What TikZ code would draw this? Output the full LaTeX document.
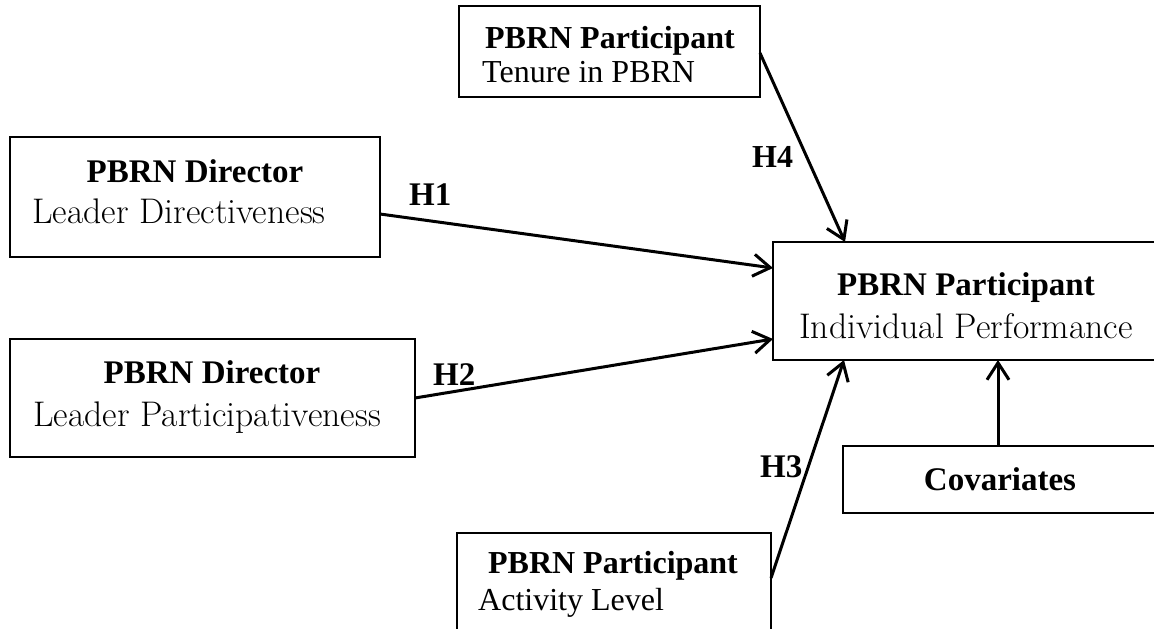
\documentclass[tikz,border=0pt]{standalone}
\usepackage{fontspec}
\newfontfamily\timesf{Liberation Serif}
\usetikzlibrary{arrows.meta}
\begin{document}
\begin{tikzpicture}[x=1pt,y=-1pt,
  box/.style={draw, line width=1.4pt, inner sep=0pt, outer sep=0pt},
  pal/.style={inner sep=0pt, font=\fontsize{35.6}{40}\selectfont},
  palb/.style={inner sep=0pt, font=\fontsize{33}{38}\selectfont\timesf\bfseries},
  tms/.style={inner sep=0pt, font=\fontsize{32}{38}\selectfont\timesf},
  tmsb/.style={inner sep=0pt, font=\fontsize{32}{38}\selectfont\timesf\bfseries},
  arr/.style={line width=3pt, -{Straight Barb[length=17pt,width=22pt]}}]
\useasboundingbox (0,0) rectangle (1154,629);
\clip (0,0) rectangle (1154,629);
% boxes
\node[box, minimum width=370pt, minimum height=120pt] (a) at (195,197) {};
\node[box, minimum width=405pt, minimum height=118pt] (b) at (212.5,398) {};
\node[box, minimum width=301pt, minimum height=91pt] (c) at (609.5,51.5) {};
\node[box, minimum width=314pt, minimum height=117pt] (d) at (614,591.5) {};
\node[box, minimum width=386pt, minimum height=118pt] (e) at (966,301) {};
\node[box, minimum width=314pt, minimum height=67pt] (f) at (1000,479.5) {};
% texts
\node[palb, anchor=base] (a1) at (195,182) {PBRN Director};
\node[pal, anchor=base west] (a2) at (32,223) {Leader Directiveness};
\node[palb, anchor=base] (b1) at (212,383) {PBRN Director};
\node[pal, anchor=base west] (b2) at (33,426) {Leader Participativeness};
\node[tmsb, anchor=base] (c1) at (610,48) {PBRN Participant};
\node[tms, anchor=base west] (c2) at (482,82) {Tenure in PBRN};
\node[tmsb, anchor=base] (d1) at (613,573) {PBRN Participant};
\node[tms, anchor=base west] (d2) at (478,610) {Activity Level};
\node[palb, anchor=base] (e1) at (966,295) {PBRN Participant};
\node[pal, anchor=base] (e2) at (966,338) {Individual Performance};
\node[palb, anchor=base] (f1) at (1000,490) {Covariates};
% labels
\node[palb, anchor=base west] (h1) at (409,205) {H1};
\node[palb, anchor=base west] (h2) at (433,385) {H2};
\node[tmsb, anchor=base west] (h4) at (752,167) {H4};
\node[palb, anchor=base west] (h3) at (760,477) {H3};
% arrows
\draw[arr] ([yshift=-17pt]a.east) -- ([yshift=33pt]e.west);
\draw[arr] (b.east) -- ([yshift=-38pt]e.west);
\draw[arr] ([yshift=-1.5pt]c.east) -- ([xshift=-121pt]e.north);
\draw[arr] ([yshift=13.5pt]d.east) -- ([xshift=-122pt]e.south);
\draw[arr] ([xshift=-2pt]f.north) -- ([xshift=32pt]e.south);
\end{tikzpicture}
\end{document}
